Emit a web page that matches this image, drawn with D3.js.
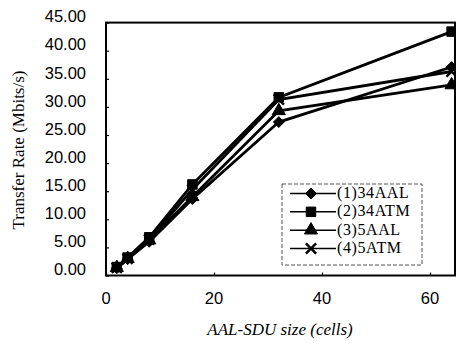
<!DOCTYPE html>
<html>
<head>
<meta charset="utf-8">
<script src="https://cdn.jsdelivr.net/npm/d3@7"></script>
<style>
  html, body { margin: 0; padding: 0; background: #fff; }
  svg { display: block; }
</style>
</head>
<body>
<svg id="chart" width="456" height="345"></svg>
<script>
// values
const sizes = [2, 4, 8, 16, 32, 64];
const seriesNames = ['(1)34AAL', '(2)34ATM', '(3)5AAL', '(4)5ATM'];
const aal34 = [1.3, 2.9, 6.0, 13.6, 27.3, 37.1];
const atm34 = [1.5, 3.2, 6.8, 16.2, 31.7, 43.4];
const aal5 = [1.4, 3.0, 6.3, 14.0, 29.3, 33.9];
const atm5 = [1.4, 3.0, 6.4, 15.3, 31.3, 36.3];
const yTicks = [0, 5, 10, 15, 20, 25, 30, 35, 40, 45];
const xTicks = [0, 20, 40, 60];

const series = [
  { name: seriesNames[0], values: aal34, symbol: d3.symbolDiamond2, size: 75 },
  { name: seriesNames[1], values: atm34, symbol: d3.symbolSquare, size: 90 },
  { name: seriesNames[2], values: aal5, symbol: d3.symbolTriangle, size: 75 },
  { name: seriesNames[3], values: atm5, symbol: d3.symbolX, size: 70 },
];

const plotLeft = 106, plotRight = 455, plotTop = 22.6, plotBottom = 275.5;
const svg = d3.select('#chart');

const x = d3.scaleLinear().domain([0, (plotRight - plotLeft) / 5.4]).range([plotLeft, plotRight]);
const y = d3.scaleLinear().domain([0, 45]).range([plotBottom, plotTop]);

const tickFont = '"Liberation Sans", Arial, sans-serif';
const serif = '"Liberation Serif", "Times New Roman", serif';

// frame
svg.append('rect')
  .attr('x', plotLeft).attr('y', plotTop)
  .attr('width', plotRight - plotLeft).attr('height', plotBottom - plotTop)
  .attr('fill', 'none').attr('stroke', '#000').attr('stroke-width', 2);

// y axis
const yAxis = svg.append('g')
  .attr('transform', `translate(${plotLeft},0)`)
  .call(d3.axisRight(y).tickValues(yTicks).tickSize(3).tickFormat(''));
yAxis.select('.domain').remove();
yAxis.selectAll('line').attr('stroke', '#000').attr('stroke-width', 1.2);

svg.append('g').selectAll('text')
  .data(yTicks)
  .join('text')
  .attr('x', 86)
  .attr('y', d => y(d) - 6)
  .attr('dy', '0.35em')
  .attr('text-anchor', 'end')
  .attr('font-family', tickFont)
  .attr('font-size', 16.5)
  .text(d => d3.format('.2f')(d));

// x axis
const xAxis = svg.append('g')
  .attr('transform', `translate(0,${plotBottom})`)
  .call(d3.axisTop(x).tickValues(xTicks).tickSize(3).tickFormat(''));
xAxis.select('.domain').remove();
xAxis.selectAll('line').attr('stroke', '#000').attr('stroke-width', 1.2);

svg.append('g').selectAll('text')
  .data(xTicks)
  .join('text')
  .attr('x', d => x(d))
  .attr('y', 298)
  .attr('dy', '0.35em')
  .attr('text-anchor', 'middle')
  .attr('font-family', tickFont)
  .attr('font-size', 16.5)
  .text(d => d);

// axis titles
svg.append('text')
  .attr('x', 280).attr('y', 329)
  .attr('dy', '0.35em')
  .attr('text-anchor', 'middle')
  .attr('font-family', serif)
  .attr('font-style', 'italic')
  .attr('font-size', 17)
  .text('AAL-SDU size (cells)');

svg.append('text')
  .attr('transform', 'translate(18,150) rotate(-90)')
  .attr('dy', '0.35em')
  .attr('text-anchor', 'middle')
  .attr('font-family', serif)
  .attr('font-size', 17)
  .text('Transfer Rate (Mbits/s)');

// lines and markers
const line = d3.line()
  .x((d, i) => x(sizes[i]))
  .y(d => y(d));

const plot = svg.append('g');

series.forEach(s => {
  plot.append('path')
    .datum(s.values)
    .attr('d', line)
    .attr('fill', 'none')
    .attr('stroke', '#000')
    .attr('stroke-width', 2.8);

  plot.selectAll(null)
    .data(s.values)
    .join('path')
    .attr('transform', (d, i) => `translate(${x(sizes[i])},${y(d)})`)
    .attr('d', d3.symbol(s.symbol, s.size))
    .attr('fill', '#000')
    .attr('stroke', '#000')
    .attr('stroke-width', s.symbol === d3.symbolX ? 2.5 : 1);
});

// legend
const legend = svg.append('g');
legend.append('rect')
  .attr('x', 282).attr('y', 184)
  .attr('width', 140).attr('height', 81)
  .attr('fill', '#fff')
  .attr('stroke', '#555')
  .attr('stroke-width', 1)
  .attr('stroke-dasharray', '4,2');

const rowY = d3.scalePoint().domain(seriesNames).range([192.5, 247.5]);

series.forEach(s => {
  const ry = rowY(s.name);
  legend.append('line')
    .attr('x1', 290).attr('x2', 336)
    .attr('y1', ry + 1).attr('y2', ry + 1)
    .attr('stroke', '#000').attr('stroke-width', 1.5);
  legend.append('path')
    .attr('transform', `translate(311,${ry + 1})`)
    .attr('d', d3.symbol(s.symbol, s.size))
    .attr('fill', '#000')
    .attr('stroke', '#000')
    .attr('stroke-width', s.symbol === d3.symbolX ? 2.5 : 1);
  legend.append('text')
    .attr('x', 337).attr('y', ry)
    .attr('dy', '0.35em')
    .attr('font-family', serif)
    .attr('font-size', 16)
    .attr('letter-spacing', 0.6)
    .text(s.name);
});
</script>
</body>
</html>
